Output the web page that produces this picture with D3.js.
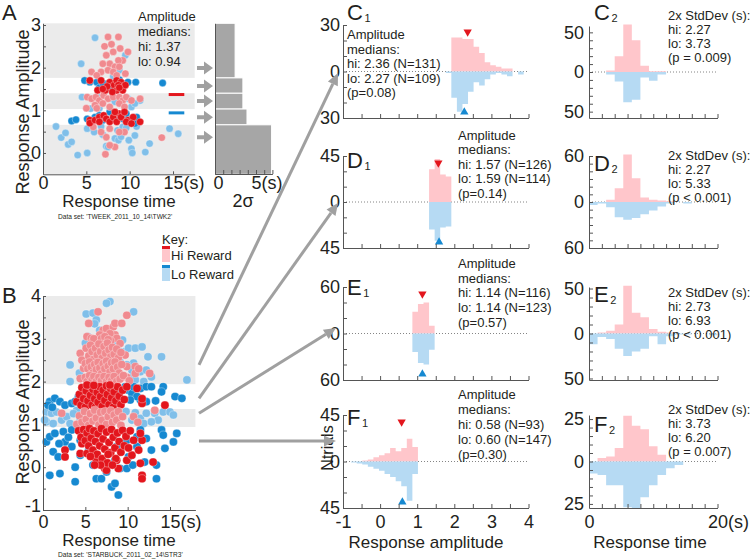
<!DOCTYPE html>
<html><head><meta charset="utf-8">
<script src="https://cdn.jsdelivr.net/npm/d3@7"></script>
<style>body{margin:0;background:#fff}</style>
</head><body><script>
const FONT = '"Liberation Sans", Arial, Helvetica, sans-serif';
const C = {hiDark:'#e3161d', hiLight:'#f08a8f', loDark:'#1689d1', loLight:'#80bfe9', band:'#ebebeb',
  histHi:'#ffc6cb', histLo:'#b6daf3', gray:'#a0a0a0', axis:'#555', text:'#231f20'};

// ---------- DATA ----------
// Panel A (dataset TWEEK): [response time (s), response amplitude]
const aHi = [[7.5,2.72],[8.7,2.72],[7.1,2.5],[8.1,2.37],[9.8,2.37],[9.2,2.17],[7.3,2.29],[7.7,2.09],[8.3,2.02],[8.7,2.17],
 [5.6,1.9],[6.7,1.9],[7.5,1.94],[8.1,1.9],[8.8,2.02],[9.5,1.86],[6.2,1.82],[6.9,2.09],[8.5,1.82],[7.9,2.55],[8.9,2.45],
 [5.1,1.31],[5.6,1.27],[6.1,1.31],[6.5,1.23],[7.0,1.35],[7.5,1.27],[8.1,1.31],[8.8,1.31],[9.2,1.23],[9.6,1.31],[10.2,1.23],[11.2,1.27],
 [6.0,1.12],[6.9,1.16],[7.7,1.08],[8.8,1.16],[9.4,1.08],[5.0,1.05],[6.2,1.05],[5.8,0.61],[7.7,0.57],[7.3,0.37],[8.3,0.14],[7.2,-0.03],
 [7.7,0.18],[9.4,0.49],[13.7,0.36],[8.8,0.49],[6.7,0.49],
 [5.4,1.7],[6.3,1.47],[6.7,1.7],[7.2,1.47],[7.7,1.66],[8.2,1.59],[8.5,1.7],[8.5,1.47],[9.0,1.66],[9.2,1.47],[8.0,1.43],[8.7,1.59],
 [9.5,1.59],[8.8,1.53],[7.4,1.56],[6.9,1.5],[5.4,0.77],[5.4,0.7],[6.0,0.77],[6.5,0.84],[7.0,0.88],[7.3,0.8],[7.7,0.73],[8.1,0.84],
 [8.5,0.73],[8.8,0.92],[9.0,0.84],[9.4,0.96],[9.8,0.77],[10.4,0.84],[11.2,0.73],[6.5,0.73],[8.3,0.96],[9.6,0.73],[10.2,0.69]];
const aLo = [[1.5,0.62],[2.1,0.36],[2.6,0.47],[2.9,0.2],[3.3,0.26],[4.0,-0.05],[5.1,0.0],[4.4,2.09],[4.5,1.31],[6.0,2.7],[5.5,1.04],
 [5.1,0.57],[5.8,0.57],[5.9,0.49],[6.5,1.05],[6.7,0.62],[6.9,0.43],[7.3,0.16],[7.5,0.14],[7.9,1.27],[8.3,0.34],[8.6,0.53],[8.7,0.3],
 [9.0,0.38],[9.2,0.61],[9.6,0.59],[9.9,0.3],[10.2,0.1],[10.3,0.0],[10.6,0.41],[9.5,2.29],[8.8,1.94],[8.1,1.8],[9.8,1.27],[10.2,1.08],
 [11.2,1.23],[11.8,0.02],[12.3,0.22],[14.6,0.57],[15.6,0.45],[6.3,1.31],[8.3,1.2],[10.6,1.16],[10.8,0.62],
 [4.8,1.7],[5.4,1.66],[3.3,0.75],[3.8,0.78],[5.1,0.8],[6.2,1.66],[6.5,1.53],[7.2,1.62],[7.7,1.5],[6.9,1.63],[8.3,0.8],[8.8,1.72],
 [9.1,1.53],[9.8,1.66],[10.7,1.66],[13.8,1.64],[6.0,0.84],[6.9,0.77],[7.7,0.96],[9.6,0.92],[10.2,0.8],[10.6,0.69],[9.2,0.8],[6.5,0.88],[10.8,0.84]];
const aBands = [[1.76,3.04],[1.03,1.40],[-0.5,0.66]];   // grey bands (amplitude ranges)
const aBinEdges = [3.04,1.76,1.40,1.03,0.66,-0.5];
const aTwoSigma = [2.45,3.4,3.4,3.9,6.9];               // 2 sigma (s) per band
const aArrowY = [1.99,1.57,1.22,0.84,0.37];
const aMedianHi = 1.37, aMedianLo = 0.94;

// Panel B (dataset STARBUCK)
const bHi = [[6.5,3.63],[5.4,3.36],[9.9,3.55],[7.1,3.2],[7.5,3.24],[8.3,3.28],[8.5,3.36],[9.3,3.36],[5.2,3.05],[5.7,3.01],[6.7,3.09],
 [8.5,3.09],[8.7,3.01],[4.4,2.66],[4.6,2.5],[4.8,2.31],[4.4,2.07],[9.7,2.62],[9.9,2.35],[10.9,2.35],[10.9,2.19],[12.6,2.19],[9.1,2.89],
 [5.9,2.95],[6.3,2.84],[7.9,3.12],[8.0,2.95],[6.0,3.0],[6.9,3.0],[7.3,3.05],[7.7,2.98],[9.9,2.1],[11.3,2.3],
 [5.1,2.78],[5.4,2.6],[5.6,2.85],[5.8,2.7],[6.0,2.52],[6.2,2.78],[6.4,2.62],[6.6,2.88],[6.8,2.7],[7.0,2.55],[7.2,2.82],[7.4,2.66],
 [7.6,2.9],[7.8,2.74],[8.0,2.58],[8.2,2.8],[8.4,2.64],[8.7,2.76],[8.9,2.55],[9.2,2.68],
 [5.0,2.42],[5.3,2.3],[5.5,2.46],[5.7,2.34],[5.9,2.2],[6.1,2.4],[6.3,2.28],[6.5,2.45],[6.7,2.32],[6.9,2.18],[7.1,2.42],[7.3,2.3],
 [7.5,2.48],[7.7,2.36],[7.9,2.22],[8.1,2.44],[8.3,2.3],[8.5,2.46],[8.8,2.34],[9.0,2.2],[9.3,2.4],
 [5.0,2.1],[5.2,2.0],[5.5,2.14],[5.8,2.04],[6.0,2.12],[6.3,2.0],[6.6,2.1],[6.9,2.02],[7.2,2.12],[7.5,2.0],[7.8,2.1],[8.1,2.02],
 [8.4,2.12],[8.7,2.0],[9.1,2.06],[9.5,2.14],[10.2,2.02],
 [4.0,1.53],[4.3,1.7],[4.5,1.45],[4.6,1.86],[4.8,1.6],[5.0,1.4],[5.1,1.78],[5.3,1.55],[5.5,1.9],[5.6,1.68],[5.8,1.45],[5.9,1.82],
 [6.1,1.6],[6.2,1.4],[6.4,1.75],[6.5,1.52],[6.7,1.88],[6.8,1.65],[7.0,1.42],[7.1,1.8],[7.3,1.56],[7.5,1.9],[7.6,1.7],[7.8,1.46],
 [8.0,1.84],[8.1,1.62],[8.3,1.4],[8.4,1.76],[8.6,1.55],[8.8,1.88],[9.0,1.66],[9.2,1.46],[9.4,1.8],[9.9,1.88],[11.1,1.84],[11.7,1.49],
 [11.7,1.6],[14.4,1.45],[9.6,1.58],[5.2,1.92],[7.9,1.92],[6.0,1.91],
 [2.2,1.26],[4.0,1.0],[4.3,1.2],[4.6,1.05],[4.9,1.3],[5.1,1.12],[5.4,0.98],[5.6,1.25],[5.9,1.08],[6.1,1.33],[6.3,1.15],[6.6,0.99],
 [6.8,1.28],[7.0,1.1],[7.3,1.3],[7.5,1.0],[7.7,1.18],[8.0,1.32],[8.2,1.05],[8.4,1.22],[8.7,1.1],[8.9,1.3],[9.2,0.98],[9.4,1.18],
 [10.7,1.18],[13.2,1.33],[11.2,1.05],
 [2.6,0.4],[2.6,0.24],[4.4,0.32],[4.6,0.55],[5.2,0.32],[6.3,0.16],[7.3,-0.03],[7.5,-0.07],[8.9,-0.03],[8.7,0.16],[9.9,0.16],[10.5,0.28],
 [11.5,0.09],[11.7,-0.19],[11.7,-0.27],[13.0,0.12],[11.3,0.4],[11.7,0.63],[11.5,0.79],[10.7,0.63],
 [4.2,0.85],[4.5,0.7],[4.8,0.88],[5.0,0.62],[5.2,0.8],[5.4,0.5],[5.5,0.9],[5.7,0.68],[5.9,0.4],[6.0,0.85],[6.2,0.6],[6.4,0.3],
 [6.5,0.78],[6.7,0.5],[6.9,0.9],[7.0,0.2],[7.1,0.66],[7.3,0.42],[7.5,0.82],[7.6,0.1],[7.8,0.58],[8.0,0.34],[8.1,0.88],[8.3,0.7],
 [8.5,0.45],[8.6,0.2],[8.8,0.8],[9.0,0.6],[9.2,0.35],[9.4,0.86],[9.6,0.5],[9.8,0.72],[10.1,0.45],[10.3,0.85],[6.8,0.05],[5.6,0.25],
 [8.2,0.05],[7.7,0.3],[6.1,0.05]];
const bLo = [[7.9,3.87],[7.5,3.83],[5.1,3.58],[5.9,3.6],[6.3,3.44],[10.7,3.63],[3.2,2.39],[3.2,2.0],[5.3,3.05],[5.5,2.81],[8.7,2.89],
 [9.1,2.7],[9.7,2.7],[10.1,2.78],[10.9,2.78],[11.7,2.81],[12.4,2.58],[14.0,2.58],[10.7,2.43],[9.9,2.39],[11.5,2.23],[12.2,2.27],
 [10.5,2.11],[10.9,2.04],[11.9,2.0],[12.8,2.11],[17.0,2.04],[9.1,2.46],[8.3,3.05],[9.4,2.97],[10.5,2.27],[6.7,3.2],[4.3,2.2],
 [6.0,2.3],[7.0,2.6],[8.0,2.1],[7.3,2.45],[8.6,2.2],[5.0,2.9],[6.1,3.35],
 [0.4,1.29],[1.0,1.26],[1.6,1.29],[0.4,1.06],[1.2,1.02],[2.2,1.1],[2.8,1.18],[3.2,1.02],[4.0,1.33],[4.4,1.1],[10.9,1.27],[11.5,1.14],
 [12.2,1.26],[13.2,1.26],[14.2,1.29],[15.0,1.29],[15.4,1.22],[11.9,1.02],[10.5,1.1],[0.2,1.1],[13.6,1.1],[12.8,1.06],[9.8,1.3],[3.6,1.25],
 [0.8,1.53],[1.4,1.61],[2.0,1.53],[2.6,1.45],[3.4,1.49],[0.6,1.45],[9.7,1.88],[10.1,1.8],[10.5,1.72],[10.7,1.88],[11.5,1.84],
 [12.2,1.88],[12.8,1.88],[14.2,1.88],[14.0,1.76],[15.6,1.65],[16.4,1.61],[11.5,1.57],[11.1,1.65],[12.2,1.53],[10.3,1.57],[4.2,1.65],
 [3.8,1.53],[4.8,1.53],[1.1,1.4],[9.0,1.75],[13.3,1.55],
 [0.4,0.59],[0.8,0.71],[1.4,0.79],[2.4,0.83],[3.4,0.87],[1.2,0.36],[1.8,0.24],[0.8,-0.19],[2.0,-0.15],[2.6,0.59],[3.4,0.48],[3.8,0.0],
 [3.8,-0.34],[4.4,0.28],[4.9,0.71],[4.4,0.63],[5.4,0.4],[6.3,-0.27],[6.9,-0.27],[7.5,-0.11],[8.1,-0.46],[8.5,-0.38],[8.9,-0.65],
 [9.1,-0.03],[9.9,-0.03],[10.1,0.24],[11.1,0.48],[11.1,0.71],[11.5,0.87],[12.2,0.67],[12.0,0.12],[13.4,0.05],[13.4,-0.27],[12.8,0.4],
 [14.0,0.87],[14.2,0.75],[14.4,0.44],[15.4,0.59],[15.8,0.79],[5.5,0.87],[8.5,0.16],[9.9,0.63],[5.9,0.05],[8.7,0.48],[3.0,0.7],
 [1.9,0.55],[6.6,0.1],[10.6,0.05]];
const bBands = [[1.94,4.0],[0.94,1.36]];
const bArrowY = [2.39,1.61,1.26,0.61];

// Amplitude histograms (C1-F1): bin width 0.15, counts
const ampBinW = 0.15;
const c1HiStart = 1.92, c1Hi = [22,22,21,21,16,12,6,4,3,2,2];
const c1LoStart = 1.77, c1Lo = [1,17,26,21,13,7,9,5,2,1,2,3,0,2];
const d1HiStart = 1.32, d1Hi = [32,42,27,25];
const d1LoStart = 1.32, d1Lo = [27,38,25,24];
const e1HiStart = 0.87, e1Hi = [28,38,40,10];
const e1LoStart = 0.87, e1Lo = [24,38,40,21];
const f1HiStart = -0.48, f1Hi = [1,2,4,6,8,13,10,13,22,14];
const f1LoStart = -0.78, f1Lo = [1,2,3,5,7,9,12,15,19,24,38,12];
const ampMedians = [[2.36,2.27],[1.57,1.59],[1.14,1.14],[0.58,0.60]];
const ampText = [
 ['Amplitude','medians:','hi: 2.36 (N=131)','lo: 2.27 (N=109)','(p=0.08)'],
 ['Amplitude','medians:','hi: 1.57 (N=126)','lo: 1.59 (N=114)','(p=0.14)'],
 ['Amplitude','medians:','hi: 1.14 (N=116)','lo: 1.14 (N=123)','(p=0.57)'],
 ['Amplitude','medians:','hi: 0.58 (N=93)','lo: 0.60 (N=147)','(p=0.30)']];
const ampYLabels = [30,45,60,45];

// Response-time histograms (C2-F2): bin width 4/3 s, starting at 0
const rtBinW = 4/3;
const c2Hi = [0,0,2,20,60,40,8,1,1],       c2Lo = [0,0,3,12,38,35,7,11,3];
const d2Hi = [0,0,3,18,62,31,6,3,2,1],     d2Lo = [4,2,7,20,23,21,16,11,6,2,0,2];
const e2Hi = [0,1,3,10,53,23,18,5,2,1],    e2Lo = [12,4,6,17,25,20,17,3,12,3,1,1,0,0,2];
const f2Hi = [0,2,3,8,27,21,19,9,4],       f2Lo = [7,8,14,14,27,28,21,14,8,4,2];
const rtText = [
 ['2x StdDev (s):','hi: 2.27','lo: 3.73','(p = 0.009)'],
 ['2x StdDev (s):','hi: 2.27','lo: 5.33','(p < 0.001)'],
 ['2x StdDev (s):','hi: 2.73','lo: 6.93','(p < 0.001)'],
 ['2x StdDev (s):','hi: 3.73','lo: 6.20','(p = 0.007)']];
const rtYLabels = [50,60,50,25];
const rtYSteps = [10,10,10,5];

// ---------- DRAWING ----------
const svg = d3.select('body').append('svg').attr('width',751).attr('height',559)
  .style('font-family',FONT);

function txt(x,y,s,size,anchor,fill){
  return svg.append('text').attr('x',x).attr('y',y).attr('font-size',size)
    .attr('text-anchor',anchor||'start').attr('fill',fill||C.text).text(s);
}
function styleAxis(g,size){
  g.attr('font-family',FONT).attr('font-size',size||18);
  g.select('.domain').attr('stroke',C.axis).attr('stroke-width',1);
  g.selectAll('.tick line').attr('stroke',C.axis);
  g.selectAll('.tick text').attr('fill',C.text);
}
function addSuffix(g,val,suffix){
  g.selectAll('.tick').filter(d=>Math.abs(d-val)<1e-9).select('text').each(function(){
    const w=this.getComputedTextLength();
    d3.select(this).attr('text-anchor','start').attr('x',-w/2).text(this.textContent+suffix);
  });
}
function panelLabel(x,y,letter,sub,size){
  const t = txt(x,y,letter,size||22);
  if(sub){
    const w = t.node().getComputedTextLength();
    txt(x+w+1.5,y+2,sub,11);
  }
}

function scatter(xs,ys,bands,lo,hi,r,yTicks,xTicks,xPad){
  const g = svg.append('g');
  g.selectAll('rect').data(bands).join('rect')
    .attr('x',xs.range()[0]).attr('width',xs.range()[1]-xs.range()[0])
    .attr('y',d=>ys(d[1])).attr('height',d=>ys(d[0])-ys(d[1])).attr('fill',C.band);
  const inGray = v=>bands.some(b=>v>=b[0]&&v<=b[1]);
  const pts = lo.map(p=>({p,s:'lo'})).concat(hi.map(p=>({p,s:'hi'})));
  g.selectAll('circle').data(pts).join('circle')
    .attr('cx',d=>xs(d.p[0])).attr('cy',d=>ys(d.p[1])).attr('r',r)
    .attr('fill',d=> d.s==='hi' ? (inGray(d.p[1])?C.hiLight:C.hiDark) : (inGray(d.p[1])?C.loLight:C.loDark))
    .attr('stroke','#fff').attr('stroke-opacity',0.55).attr('stroke-width',0.6);
  const yb = ys.range()[0];
  const gy = svg.append('g').attr('transform',`translate(${xs.range()[0]},0)`)
    .call(d3.axisLeft(ys).tickValues(d3.range(yTicks[0],yTicks[1]+1e-9,0.5)).tickSize(-3).tickSizeOuter(0).tickPadding(2)
      .tickFormat(d=>Number.isInteger(d)?String(d):''));
  styleAxis(gy);
  gy.selectAll('.tick').filter(d=>d===-1).select('text').attr('dy','0.1em');
  const gx = svg.append('g').attr('transform',`translate(0,${yb})`)
    .call(d3.axisBottom(xs).tickValues(xTicks).tickSize(-3).tickSizeOuter(0).tickPadding(xPad).tickFormat(d=>String(d)));
  styleAxis(gx);
  addSuffix(gx,15,'(s)');
  return g;
}

// ---- Panel A ----
const ax = d3.scaleLinear().domain([0,17.5]).range([43,194.7]);
const ay = d3.scaleLinear().domain([-0.5,3.04]).range([174.3,23.3]);
scatter(ax,ay,aBands,aLo,aHi,3.7,[0,3],[0,5,10,15],2);
svg.append('line').attr('x1',ax(14.5)).attr('x2',ax(16.3)).attr('y1',ay(aMedianHi)).attr('y2',ay(aMedianHi))
  .attr('stroke',C.hiDark).attr('stroke-width',3);
svg.append('line').attr('x1',ax(14.5)).attr('x2',ax(16.3)).attr('y1',ay(aMedianLo)).attr('y2',ay(aMedianLo))
  .attr('stroke',C.loDark).attr('stroke-width',3);
['Amplitude','medians:','hi: 1.37','lo: 0.94'].forEach((s,i)=>txt(138,21+i*15,s,13));
panelLabel(2,20,'A',null,22);
txt(0,0,'Response Amplitude',18,'middle').attr('transform','translate(29,112) rotate(-90)');
txt(119,207,'Response time',17,'middle');
txt(58,219,"Data set: 'TWEEK_2011_10_14\\TWK2'",6.6);

// inset 2-sigma bars
const sx = d3.scaleLinear().domain([0,7]).range([215,272.4]);
const sBars = aTwoSigma.map((v,i)=>({v,top:aBinEdges[i],bot:aBinEdges[i+1]}));
svg.append('g').selectAll('rect').data(sBars).join('rect')
  .attr('x',sx(0)).attr('width',d=>sx(d.v)-sx(0)).attr('y',d=>ay(d.top)).attr('height',d=>ay(d.bot)-ay(d.top))
  .attr('fill','#a6a6a6').attr('stroke','#fff').attr('stroke-width',1);
const gsy = svg.append('g').attr('transform','translate(215,0)')
  .call(d3.axisLeft(ay).tickValues([]).tickSizeOuter(0));
styleAxis(gsy);
const gsx = svg.append('g').attr('transform','translate(0,174)')
  .call(d3.axisBottom(sx).tickValues(d3.range(0,8)).tickSize(-4).tickSizeOuter(0).tickPadding(2)
    .tickFormat(d=>(d===0||d===5)?String(d):''));
styleAxis(gsx);
addSuffix(gsx,5,'(s)');
gsx.selectAll('.tick').filter(d=>d===0).select('text').attr('x',3);
txt(243,207,'2σ',18,'middle');
// small arrows from bands to bars
aArrowY.forEach(v=>{
  const y=ay(v);
  svg.append('path').attr('d',`M197,${y-2}L204,${y-2}L204,${y-6.5}L213,${y}L204,${y+6.5}L204,${y+2}L197,${y+2}Z`).attr('fill',C.gray);
});

// ---- Panel B ----
const bx = d3.scaleLinear().domain([0,18]).range([43,195.4]);
const by = d3.scaleLinear().domain([-1,4]).range([510,296]);
scatter(bx,by,bBands,bLo,bHi,4.1,[-1,4],[0,5,10,15],5);
panelLabel(2,303,'B',null,22);
txt(0,0,'Response Amplitude',18,'middle').attr('transform','translate(29,402) rotate(-90)');
txt(119,546,'Response time',17,'middle');
txt(58,557,"Data set: 'STARBUCK_2011_02_14\\STR3'",6.6);
// key
txt(162,244,'Key:',13);
svg.append('rect').attr('x',162).attr('y',246).attr('width',8).attr('height',3).attr('fill',C.hiDark);
svg.append('rect').attr('x',162).attr('y',249).attr('width',8).attr('height',13).attr('fill',C.histHi);
txt(171,260,'Hi Reward',13);
svg.append('rect').attr('x',162).attr('y',265).attr('width',8).attr('height',3).attr('fill',C.loDark);
svg.append('rect').attr('x',162).attr('y',268).attr('width',8).attr('height',13).attr('fill',C.histLo);
txt(171,279,'Lo Reward',13);

// ---- histogram helper ----
function hist(o){
  const x = d3.scaleLinear().domain(o.xd).range(o.xr);
  const y = d3.scaleLinear().domain([-o.yDom,o.yDom]).range([o.bottom,o.top]);
  const g = svg.append('g');
  g.append('line').attr('x1',o.xr[0]).attr('x2',o.xr[1]).attr('y1',y(0)).attr('y2',y(0))
    .attr('stroke','#777').attr('stroke-width',0.9).attr('stroke-dasharray','1,2');
  const steps=(start,counts,sign)=>{
    const p=counts.map((c,i)=>({x:start+i*o.binW,c:sign*c}));
    p.push({x:start+counts.length*o.binW,c:sign*counts[counts.length-1]});
    return p;
  };
  const area=d3.area().x(d=>x(d.x)).y0(y(0)).y1(d=>y(d.c)).curve(d3.curveStepAfter);
  g.append('path').attr('d',area(steps(o.hiStart,o.hi,1))).attr('fill',C.histHi);
  g.append('path').attr('d',area(steps(o.loStart,o.lo,-1))).attr('fill',C.histLo);
  if(o.med){
    g.append('path').attr('d',d3.symbol(d3.symbolTriangle,30)())
      .attr('transform',`translate(${x(o.med[0])},${o.top+7}) rotate(180)`).attr('fill',C.hiDark);
    g.append('path').attr('d',d3.symbol(d3.symbolTriangle,30)())
      .attr('transform',`translate(${x(o.med[1])},${o.bottom-6})`).attr('fill',C.loDark);
  }
  const gy = svg.append('g').attr('transform',`translate(${o.xr[0]},0)`)
    .call(d3.axisLeft(y).tickValues(d3.range(-o.yLab,o.yLab+1e-9,o.yStep)).tickSize(-4).tickSizeOuter(0).tickPadding(o.yPad)
      .tickFormat(d=>(Math.abs(Math.abs(d)-o.yLab)<1e-9||d===0)?String(Math.abs(d)):''));
  styleAxis(gy);
  const gx = svg.append('g').attr('transform',`translate(0,${o.bottom})`)
    .call(d3.axisBottom(x).tickValues(o.xTicks).tickSize(-4).tickSizeOuter(0).tickPadding(7)
      .tickFormat(d=>o.showX && o.xLabels.includes(d) ? String(d) : ''));
  styleAxis(gx);
  if(o.showX && o.suffix) addSuffix(gx,o.suffix[0],o.suffix[1]);
  o.lines.forEach((s,i)=>txt(o.tx,o.ty+i*o.lh,s,13));
  return {x,y};
}

const col1 = [
 {top:25,bottom:118,hiStart:c1HiStart,hi:c1Hi,loStart:c1LoStart,lo:c1Lo,tx:347,ty:39,lh:14.5,L:'C',ly:20},
 {top:156,bottom:248,hiStart:d1HiStart,hi:d1Hi,loStart:d1LoStart,lo:d1Lo,tx:458,ty:140,lh:14.4,L:'D',ly:168},
 {top:287,bottom:380,hiStart:e1HiStart,hi:e1Hi,loStart:e1LoStart,lo:e1Lo,tx:458,ty:268,lh:14.7,L:'E',ly:295},
 {top:415,bottom:508,hiStart:f1HiStart,hi:f1Hi,loStart:f1LoStart,lo:f1Lo,tx:458,ty:399,lh:15,L:'F',ly:425}];
col1.forEach((p,i)=>hist({
  xd:[-1,4], xr:[343,528.5], top:p.top, bottom:p.bottom, yDom:ampYLabels[i], yLab:ampYLabels[i], yStep:ampYLabels[i]/3, yPad:3,
  binW:ampBinW, hiStart:p.hiStart, hi:p.hi, loStart:p.loStart, lo:p.lo, med:ampMedians[i],
  xTicks:d3.range(-1,4.001,0.5), xLabels:[-1,0,1,2,3,4], showX:i===3,
  lines:ampText[i], tx:p.tx, ty:p.ty, lh:p.lh}));
col1.forEach(p=>panelLabel(347,p.ly,p.L,'1',22));

const col2 = [
 {top:26,bottom:118,hi:c2Hi,lo:c2Lo,yDom:58,ty:19.5,L:'C',ly:20},
 {top:156,bottom:248,hi:d2Hi,lo:d2Lo,yDom:60,ty:160,L:'D',ly:171},
 {top:287,bottom:380,hi:e2Hi,lo:e2Lo,yDom:51.7,ty:297,L:'E',ly:302},
 {top:415,bottom:508,hi:f2Hi,lo:f2Lo,yDom:27.4,ty:414,L:'F',ly:432}];
col2.forEach((p,i)=>hist({
  xd:[0,20], xr:[589,717.5], top:p.top, bottom:p.bottom, yDom:p.yDom, yLab:rtYLabels[i], yStep:rtYSteps[i], yPad:5,
  binW:rtBinW, hiStart:0, hi:p.hi, loStart:0, lo:p.lo, med:null,
  xTicks:d3.range(0,20.001,2), xLabels:[0,20], showX:i===3, suffix:[20,'(s)'],
  lines:rtText[i], tx:668, ty:p.ty, lh:14}));
col2.forEach(p=>panelLabel(594,p.ly,p.L,'2',22));

txt(426,548,'Response amplitude',17,'middle');
txt(650,548,'Response time',17,'middle');
txt(0,0,'Ntrials',16,'middle').attr('transform','translate(333,448) rotate(-90)');

// ---- big arrows from panel B bands to C1..F1 ----
const targets = [[338,73],[338,203],[336,328],[336,441]];
bArrowY.forEach((v,i)=>{
  const x0=199, y0=by(v), x1=targets[i][0], y1=targets[i][1];
  const ang=Math.atan2(y1-y0,x1-x0), L=12, Wd=5.5;
  const bx1=x1-L*Math.cos(ang), by1=y1-L*Math.sin(ang);
  svg.append('line').attr('x1',x0).attr('y1',y0).attr('x2',bx1).attr('y2',by1)
    .attr('stroke',C.gray).attr('stroke-width',3);
  svg.append('path').attr('d',`M${x1},${y1}L${bx1-Wd*Math.sin(ang)},${by1+Wd*Math.cos(ang)}L${bx1+Wd*Math.sin(ang)},${by1-Wd*Math.cos(ang)}Z`)
    .attr('fill',C.gray);
});
</script></body></html>
